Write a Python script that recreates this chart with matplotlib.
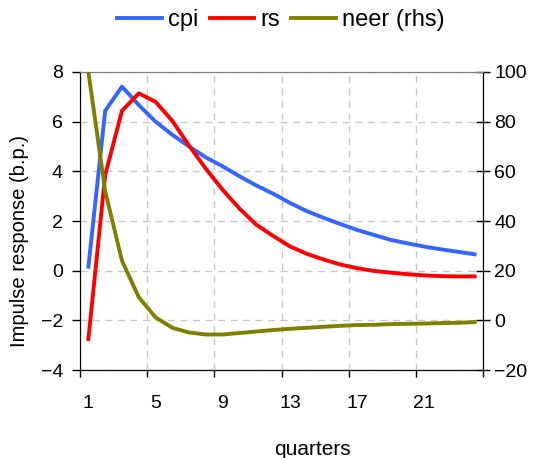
import matplotlib
matplotlib.use('Agg')
import matplotlib.pyplot as plt

plt.rcParams['font.family'] = ['Liberation Sans', 'DejaVu Sans']

quarters = list(range(1, 25))
cpi = [0.16, 6.44, 7.41, 6.67, 6.0, 5.47, 5.0, 4.56, 4.2, 3.8, 3.43, 3.1,
       2.73, 2.4, 2.13, 1.88, 1.64, 1.44, 1.24, 1.1, 0.97, 0.86, 0.76, 0.66]
rs = [-2.75, 3.85, 6.44, 7.14, 6.8, 6.03, 5.03, 4.1, 3.25, 2.5, 1.85, 1.4,
      0.98, 0.68, 0.45, 0.25, 0.1, -0.01, -0.08, -0.14, -0.19, -0.22, -0.23, -0.23]
neer = [100, 52, 24, 9.3, 1.2, -3.0, -4.9, -5.7, -5.7, -5.1, -4.5, -3.9,
        -3.4, -3.0, -2.6, -2.2, -1.9, -1.8, -1.5, -1.4, -1.3, -1.1, -1.0, -0.7]
tick_labels = ['1', '5', '9', '13', '17', '21']

fig = plt.figure(figsize=(5.38, 4.58), dpi=100)
ax = fig.add_axes([0.1487, 0.1921, 0.7491, 0.6507])
ax2 = ax.twinx()

l1, = ax.plot(quarters, cpi, color='#3366ff', lw=2.8, label='cpi', zorder=3)
l2, = ax.plot(quarters, rs, color='#ff0000', lw=2.8, label='rs', zorder=3)
l3, = ax2.plot(quarters, neer, color='#808000', lw=2.8, label='neer (rhs)', zorder=3)

ax.set_xlim(0.5, 24.5)
ax.set_ylim(-4, 8)
ax2.set_ylim(-20, 100)
ax.set_yticks(range(-4, 9, 2))
ax2.set_yticks(range(-20, 101, 20))

# excel style category axis: marks on boundaries, labels on categories
ax.set_xticks([0.5 + 4 * i for i in range(7)])
ax.set_xticklabels([])
ax.set_xticks([int(t) for t in tick_labels], minor=True)
ax.set_xticklabels(tick_labels, minor=True)
ax.tick_params(axis='x', which='minor', length=0, pad=18, labelsize=14)
ax.tick_params(axis='x', which='major', direction='out', length=5, width=1)
ax.tick_params(axis='y', direction='out', length=5.8, width=1, pad=6.5, labelsize=14)
ax2.tick_params(axis='y', direction='inout', length=9.4, width=1, pad=3.5, labelsize=14)

ax.grid(True, which='major', color='#c8c8c8', linestyle=(0, (5, 4)), lw=1)
ax.set_axisbelow(True)

ax.spines['top'].set_color('#808080')
ax2.spines['top'].set_color('#808080')
ax.spines['left'].set_color('#404040')
ax.spines['bottom'].set_color('#202020')
ax2.spines['right'].set_color('#000000')

ax.set_ylabel('Impulse response (b.p.)', fontsize=14.5)
ax.yaxis.set_label_coords(-0.127, 0.433)
ax.set_xlabel('quarters', fontsize=15)
ax.xaxis.set_label_coords(0.576, -0.235)

fig.legend(handles=[l1, l2, l3], loc='center', bbox_to_anchor=(0.522, 0.956),
           ncol=3, frameon=False, fontsize=17, handlelength=1.9,
           handletextpad=0.25, columnspacing=0.47)

plt.savefig('out.png', dpi=100)
